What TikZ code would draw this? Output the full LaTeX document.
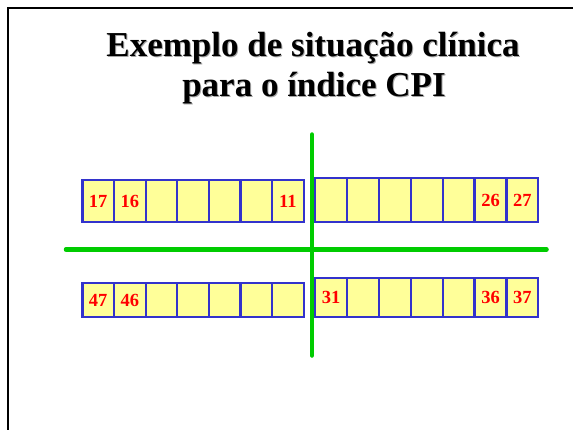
\documentclass[tikz,border=0pt]{standalone}
\usepackage{fontspec}
\setmainfont{Liberation Serif}
\definecolor{cellfill}{HTML}{FFFF99}
\definecolor{cellline}{HTML}{3333CC}
\definecolor{axisgreen}{HTML}{00CC00}
\definecolor{numred}{HTML}{FF0000}
\tikzset{
  cell/.style={draw=cellline, fill=cellfill, line width=2.2pt, inner sep=0pt,
    minimum width=31.6pt, font=\fontsize{18.5}{18.5}\selectfont\bfseries, text=numred},
  axis/.style={draw=axisgreen, line width=4.5pt, line cap=round},
  titletext/.style={font=\fontsize{35}{35}\selectfont\bfseries, anchor=base, inner sep=0pt},
  frame/.style={draw=black, line width=2pt}
}
\begin{document}
\begin{tikzpicture}[x=1pt,y=-1pt]
\useasboundingbox (0,0) rectangle (573,429);
\fill[white] (0,0) rectangle (573,429);
% frame
\coordinate (fbl) at (7.5,440);
\coordinate (ftl) at (7.5,7.5);
\coordinate (ftr) at (590,7.5);
\draw[frame] (fbl) -- (ftl) -- (ftr);
% title
\node[titletext, text=black!35] (t1s) at (314,57.7) {Exemplo de situação clínica};
\node[titletext, text=black!35] (t2s) at (315,97.7) {para o índice CPI};
\node[titletext] (t1) at (313,56.7) {Exemplo de situação clínica};
\node[titletext] (t2) at (314,96.7) {para o índice CPI};
% upper left row
\begin{scope}[cell/.append style={minimum height=42pt}]
\node[cell] (ul1) at (98.2,201) {17};
\node[cell] (ul2) at (129.8,201) {16};
\node[cell] (ul3) at (161.4,201) {};
\node[cell] (ul4) at (193.0,201) {};
\node[cell] (ul5) at (224.6,201) {};
\node[cell] (ul6) at (256.2,201) {};
\node[cell] (ul7) at (287.8,201) {11};
\end{scope}
% upper right row
\begin{scope}[cell/.append style={minimum height=43.5pt, minimum width=31.9pt}]
\node[cell] (ur1) at (331.0,200) {};
\node[cell] (ur2) at (362.9,200) {};
\node[cell] (ur3) at (394.8,200) {};
\node[cell] (ur4) at (426.7,200) {};
\node[cell] (ur5) at (458.6,200) {};
\node[cell] (ur6) at (490.5,200) {26};
\node[cell] (ur7) at (522.4,200) {27};
\end{scope}
% lower left row
\begin{scope}[cell/.append style={minimum height=34pt}]
\node[cell] (ll1) at (98.2,300) {47};
\node[cell] (ll2) at (129.8,300) {46};
\node[cell] (ll3) at (161.4,300) {};
\node[cell] (ll4) at (193.0,300) {};
\node[cell] (ll5) at (224.6,300) {};
\node[cell] (ll6) at (256.2,300) {};
\node[cell] (ll7) at (287.8,300) {};
\end{scope}
% lower right row
\begin{scope}[cell/.append style={minimum height=39pt, minimum width=31.9pt}]
\node[cell] (lr1) at (331.0,297.5) {31};
\node[cell] (lr2) at (362.9,297.5) {};
\node[cell] (lr3) at (394.8,297.5) {};
\node[cell] (lr4) at (426.7,297.5) {};
\node[cell] (lr5) at (458.6,297.5) {};
\node[cell] (lr6) at (490.5,297.5) {36};
\node[cell] (lr7) at (522.4,297.5) {37};
\end{scope}
% axes
\coordinate (hl) at (66,249.5);
\coordinate (hr) at (546.5,249.5);
\coordinate (vt) at (312,134.5);
\coordinate (vb) at (312,355.5);
\draw[axis] (hl) -- (hr);
\draw[axis] (vt) -- (vb);
\end{tikzpicture}
\end{document}
